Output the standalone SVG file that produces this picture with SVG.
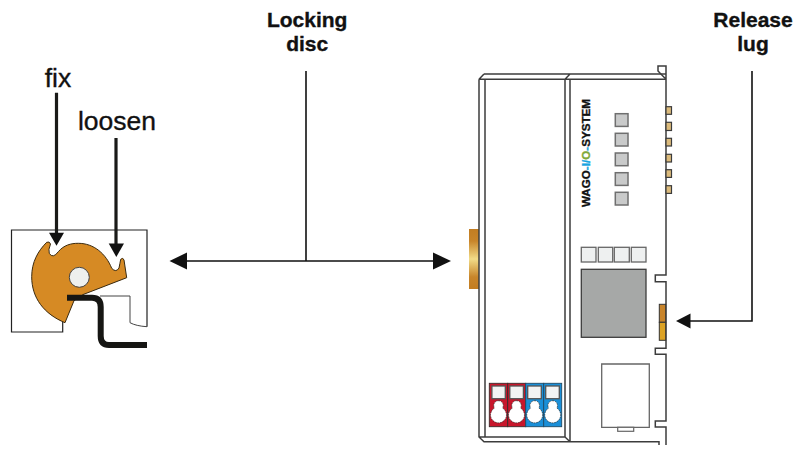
<svg xmlns="http://www.w3.org/2000/svg" width="797" height="450" viewBox="0 0 797 450">
<style>
.lab{font-family:"Liberation Sans",Arial,sans-serif;font-size:21px;font-weight:700;fill:#111;text-anchor:middle;stroke:#111;stroke-width:.35}
.act{font-family:"Liberation Sans",Arial,sans-serif;font-size:26.5px;fill:#111;text-anchor:middle;stroke:#111;stroke-width:.35}
.thin{fill:none;stroke:#111;stroke-width:1.6}
.thick{fill:none;stroke:#1a1a18;stroke-width:3.2}
.head{fill:#111}
.b{fill:none;stroke:#3c3c3c;stroke-width:1.5}
.led{fill:#c9caca;stroke:#6f6f6f;stroke-width:1.5}
.key{fill:#eef0f0;stroke:#666;stroke-width:1.3}
.tab{fill:#dcbb7c;stroke:#3c3c3c;stroke-width:1.2}
.hole{fill:#fff;stroke:#333;stroke-width:.8;stroke-dasharray:1.5 1}
.win{fill:#f3f3f3;stroke:#555;stroke-width:1.3}
.tred{fill:#c8162b;stroke:#3a2a2a;stroke-width:.9}
.tblu{fill:#1a8fd8;stroke:#1f4a66;stroke-width:.9}
</style>
<defs>
<linearGradient id="rail" x1="0" y1="0" x2="0" y2="1">
<stop offset="0" stop-color="#c27d22"/><stop offset=".2" stop-color="#c8852a"/><stop offset=".5" stop-color="#f2dc88"/><stop offset=".8" stop-color="#c8852a"/><stop offset="1" stop-color="#c27d22"/>
</linearGradient>
</defs>
<g id="label-locking"><text class="lab" x="307.2" y="26.7">Locking</text><text class="lab" x="307.2" y="50.7">disc</text></g>
<g id="label-release"><text class="lab" x="753" y="26.7">Release</text><text class="lab" x="753" y="50.7">lug</text></g>
<g id="label-fix"><text class="act" x="58" y="87.3">fix</text></g>
<g id="label-loosen"><text class="act" x="117" y="130">loosen</text></g>

<g id="locking-detail">
<path d="M147 326.7V230H11.5V332H62.7V322" fill="none" stroke="#222" stroke-width="1.2"/>
<path d="M100 296H130V322.7Q136 326 147 326.7" fill="none" stroke="#444" stroke-width="1"/>
<path d="M65 322.7C44 314 31.7 298 31.7 276.7C31.7 262 38 251 46.7 242.3Q49.5 241 50.5 244Q48 250 49.3 253.5Q53 259 58.3 251.7C64 245 71 243.3 78.3 243.3C94 243.3 106 254 111.7 268.3Q116 273 119 268Q120 263 120.7 259.3Q123 257 124 260L126.7 277.7L82.7 294.7L74 300.7Z" fill="#d68a24" stroke="#3a2a10" stroke-width="1"/>
<circle cx="79.3" cy="277.3" r="10" fill="#eef0ee" stroke="#444" stroke-width="1"/>
<path d="M67 297.7H92Q100.7 297.7 100.7 307V336Q100.7 345 109 345H147" fill="none" stroke="#161613" stroke-width="6"/>
</g>

<g id="module">
<rect x="469" y="229" width="10" height="60" fill="url(#rail)"/>
<path class="b" d="M479 79.3H666M484 74H666M479 79.3L484 74M485 79.3V437M479 79.3V437L484 441.7H659V445M479 437H565M565 79.3V437L570 441.7M570 79.3V441.7M565 79.3L570 74"/>
<path class="b" d="M666 79.3L658 71V66H666V275H655.3V281.7H666V348.3H655.3V354.3H666V421H655.3V427H666V445"/>
<g>
<rect class="tab" x="666" y="106.7" width="5.5" height="7.6"/><rect class="tab" x="666" y="122.3" width="5.5" height="8.2"/><rect class="tab" x="666" y="138.3" width="5.5" height="7.7"/><rect class="tab" x="666" y="154.3" width="5.5" height="7.7"/><rect class="tab" x="666" y="169.7" width="5.5" height="7.7"/><rect class="tab" x="666" y="185.7" width="5.5" height="7.7"/>
</g>
<g>
<rect class="led" x="615.3" y="113.7" width="12.7" height="12.7"/><rect class="led" x="615.3" y="133.3" width="12.7" height="12.7"/><rect class="led" x="615.3" y="153" width="12.7" height="12.7"/><rect class="led" x="615.3" y="172.7" width="12.7" height="12.7"/><rect class="led" x="615.3" y="192.3" width="12.7" height="12.7"/>
</g>
<text transform="translate(590.3 207) rotate(-90)" font-family="'Liberation Sans',Arial,sans-serif" font-size="11.5" font-weight="700" fill="#111" stroke="#111" stroke-width=".35" textLength="108" lengthAdjust="spacingAndGlyphs">WAGO<tspan fill="#19a5e0" stroke="#19a5e0">-I/</tspan><tspan fill="#7fa83a" stroke="#7fa83a">O</tspan><tspan fill="#19a5e0" stroke="#19a5e0">-</tspan>SYSTEM</text>
<g>
<rect class="key" x="581.3" y="247.3" width="14.7" height="14.7"/><rect class="key" x="598.3" y="247.3" width="14.4" height="14.7"/><rect class="key" x="614.3" y="247.3" width="15" height="14.7"/><rect class="key" x="631.3" y="247.3" width="14.7" height="14.7"/>
</g>
<rect x="581.3" y="269.3" width="64.7" height="68" fill="#a6a8a7" stroke="#3c3c3c" stroke-width="1.3"/>
<rect x="659.3" y="304.3" width="6.4" height="18" fill="#c8842a" stroke="#333" stroke-width="1"/>
<rect x="659.3" y="322.3" width="6.4" height="18" fill="#dca224" stroke="#333" stroke-width="1"/>
<path d="M601.7 364H649.3V427.3H601.7Z" fill="#fff" stroke="#666" stroke-width="1.3"/>
<rect x="617.7" y="427.3" width="16" height="4" fill="#fff" stroke="#666" stroke-width="1.2"/>
<g>
<rect class="tred" x="489.3" y="383.3" width="18.4" height="43.4"/><rect class="tred" x="507.7" y="383.3" width="18" height="43.4"/><rect class="tblu" x="525.7" y="383.3" width="18" height="43.4"/><rect class="tblu" x="543.7" y="383.3" width="18" height="43.4"/>
<rect class="win" x="491.9" y="386" width="13.4" height="12.7"/><rect class="win" x="509.8" y="386" width="13.6" height="12.7"/><rect class="win" x="527.7" y="386" width="13.6" height="12.7"/><rect class="win" x="545.7" y="386" width="13.6" height="12.7"/>
<g id="keyholes">
<path class="hole" d="M498.5 400.7a4.8 4.8 0 0 1 4.8 4.8q0 1.6 -.6 2.6a8 8 0 1 1 -8.4 0q-.6 -1 -.6 -2.6a4.8 4.8 0 0 1 4.8 -4.8Z"/>
<path class="hole" d="M516.5 400.7a4.8 4.8 0 0 1 4.8 4.8q0 1.6 -.6 2.6a8 8 0 1 1 -8.4 0q-.6 -1 -.6 -2.6a4.8 4.8 0 0 1 4.8 -4.8Z"/>
<path class="hole" d="M534.7 400.7a4.8 4.8 0 0 1 4.8 4.8q0 1.6 -.6 2.6a8 8 0 1 1 -8.4 0q-.6 -1 -.6 -2.6a4.8 4.8 0 0 1 4.8 -4.8Z"/>
<path class="hole" d="M552.7 400.7a4.8 4.8 0 0 1 4.8 4.8q0 1.6 -.6 2.6a8 8 0 1 1 -8.4 0q-.6 -1 -.6 -2.6a4.8 4.8 0 0 1 4.8 -4.8Z"/>
</g>
</g>
</g>

<g id="connectors">
<path class="thick" d="M56.5 92.7V234"/><polygon class="head" points="49,232.7 64,232.7 56.5,245.7"/>
<path class="thick" d="M116 138V245"/><polygon class="head" points="108.7,243.5 124,243.5 116.3,257"/>
<path class="thin" d="M306 71V261M185 261H435"/>
<polygon class="head" points="169.5,261 187,252.5 187,269.5"/><polygon class="head" points="451,261 433,252.5 433,269.5"/>
<path class="thin" d="M752 71V321H688"/><polygon class="head" points="676,321 690.5,313.5 690.5,328.5"/>
</g>
</svg>
